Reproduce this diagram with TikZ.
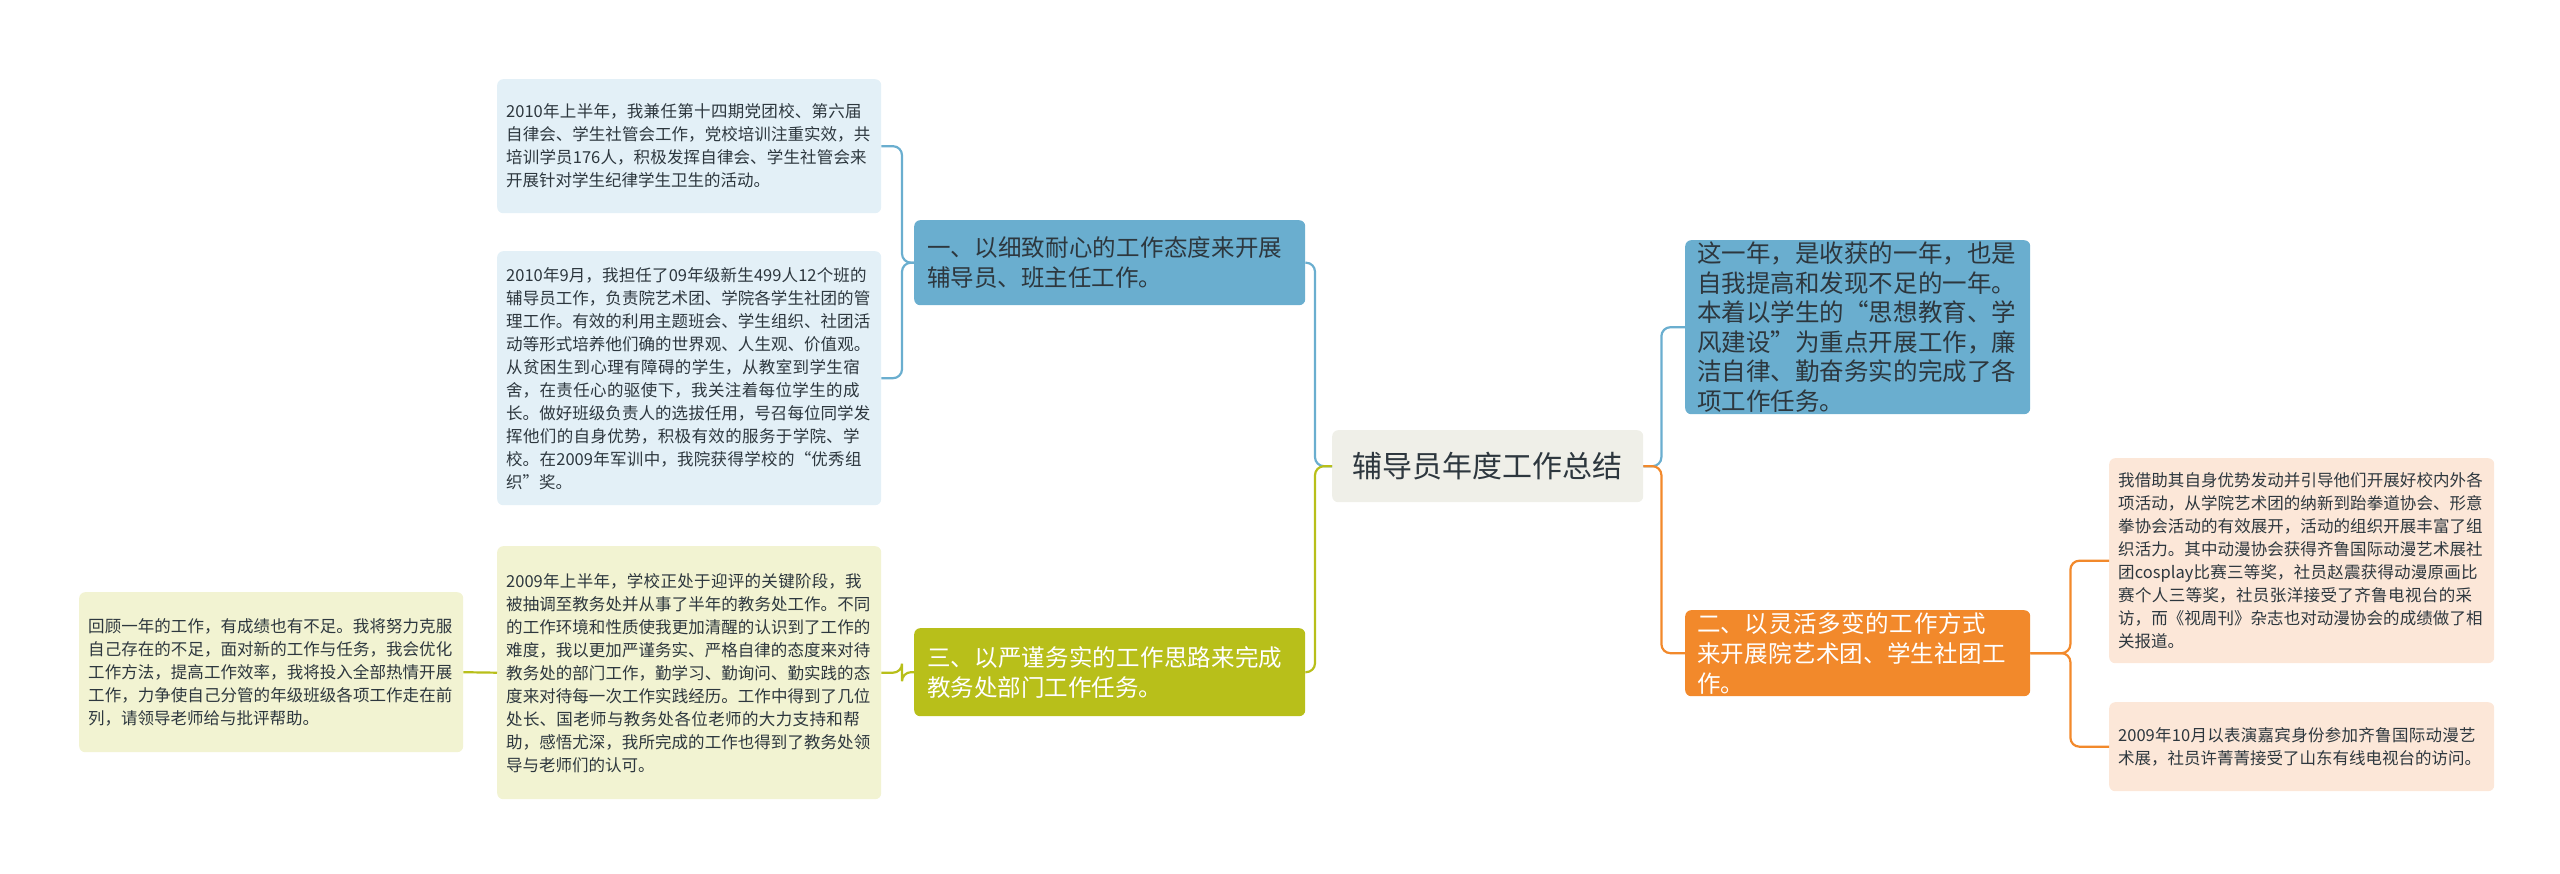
\documentclass[tikz,border=0pt]{standalone}
\usepackage{fontspec}
\setmainfont{Noto Sans CJK SC}
\XeTeXlinebreaklocale "zh"
\XeTeXlinebreakskip=0pt plus 1pt
\usetikzlibrary{positioning}
\definecolor{rootBg}{RGB}{239, 239, 232}
\definecolor{blueMain}{RGB}{106, 174, 207}
\definecolor{blueLeaf}{RGB}{227, 240, 247}
\definecolor{oliveMain}{RGB}{184, 191, 26}
\definecolor{oliveLeaf}{RGB}{242, 243, 210}
\definecolor{orangeMain}{RGB}{242, 137, 43}
\definecolor{orangeLeaf}{RGB}{252, 231, 216}
\definecolor{textDark}{RGB}{45, 55, 62}

\tikzset{
    box/.style={anchor=north west, rounded corners=6pt, inner sep=0pt, align=left},
    leaftext/.style={font=\fontsize{16.5}{23}\selectfont},
    branchtext/.style={font=\fontsize{23.5}{30}\selectfont},
    link/.style={line width=2.2pt, rounded corners=9pt}
}

\begin{document}
\begin{tikzpicture}[x=1pt, y=-1pt]
        \useasboundingbox (0,0) rectangle (2560,874);

        % Root
        \node[box, fill=rootBg, minimum width=311pt, minimum height=72pt, align=center,
              font=\fontsize{30}{36}\selectfont, text=textDark] (root) at (1332,430)
              {辅导员年度工作总结};

        % Branches
        \node[box, fill=blueMain, minimum width=391pt, minimum height=85pt, branchtext, text=textDark,
              text width=365pt, inner xsep=13pt] (brA) at (914,220)
              {一、以细致耐心的工作态度来开展辅导员、班主任工作。};
        \node[box, fill=oliveMain, minimum width=391pt, minimum height=88pt, branchtext, text=white,
              text width=365pt, inner xsep=13pt] (brC) at (914,628)
              {三、以严谨务实的工作思路来完成教务处部门工作任务。};
        \node[box, fill=blueMain, minimum width=345pt, minimum height=174pt,
              font=\fontsize{24.5}{29.5}\selectfont, text=textDark,
              text width=321pt, inner xsep=12pt] (sumR) at (1685,240)
              {这一年，是收获的一年，也是自我提高和发现不足的一年。本着以学生的“思想教育、学风建设”为重点开展工作，廉洁自律、勤奋务实的完成了各项工作任务。};
        \node[box, fill=orangeMain, minimum width=345pt, minimum height=86pt, branchtext, text=white,
              text width=321pt, inner xsep=12pt] (brB) at (1685,610)
              {二、以灵活多变的工作方式来开展院艺术团、学生社团工作。};

        % Leaves
        \node[box, fill=blueLeaf, minimum width=384pt, minimum height=134pt, leaftext, text=textDark,
              text width=366pt, inner xsep=9pt] (leafAa) at (497,79)
              {2010年上半年，我兼任第十四期党团校、第六届自律会、学生社管会工作，党校培训注重实效，共培训学员176人，积极发挥自律会、学生社管会来开展针对学生纪律学生卫生的活动。};
        \node[box, fill=blueLeaf, minimum width=384pt, minimum height=254pt, leaftext, text=textDark,
              text width=366pt, inner xsep=9pt] (leafAb) at (497,251)
              {2010年9月，我担任了09年级新生499人12个班的辅导员工作，负责院艺术团、学院各学生社团的管理工作。有效的利用主题班会、学生组织、社团活动等形式培养他们确的世界观、人生观、价值观。从贫困生到心理有障碍的学生，从教室到学生宿舍，在责任心的驱使下，我关注着每位学生的成长。做好班级负责人的选拔任用，号召每位同学发挥他们的自身优势，积极有效的服务于学院、学校。在2009年军训中，我院获得学校的“优秀组织”奖。};
        \node[box, fill=oliveLeaf, minimum width=384pt, minimum height=253pt, leaftext, text=textDark,
              text width=366pt, inner xsep=9pt] (leafCa) at (497,546)
              {2009年上半年，学校正处于迎评的关键阶段，我被抽调至教务处并从事了半年的教务处工作。不同的工作环境和性质使我更加清醒的认识到了工作的难度，我以更加严谨务实、严格自律的态度来对待教务处的部门工作，勤学习、勤询问、勤实践的态度来对待每一次工作实践经历。工作中得到了几位处长、国老师与教务处各位老师的大力支持和帮助，感悟尤深，我所完成的工作也得到了教务处领导与老师们的认可。};
        \node[box, fill=oliveLeaf, minimum width=384pt, minimum height=160pt, leaftext, text=textDark,
              text width=366pt, inner xsep=9pt] (leafCb) at (79,592)
              {回顾一年的工作，有成绩也有不足。我将努力克服自己存在的不足，面对新的工作与任务，我会优化工作方法，提高工作效率，我将投入全部热情开展工作，力争使自己分管的年级班级各项工作走在前列，请领导老师给与批评帮助。};
        \node[box, fill=orangeLeaf, minimum width=385pt, minimum height=205pt, leaftext, text=textDark,
              text width=367pt, inner xsep=9pt] (leafBa) at (2109,458)
              {我借助其自身优势发动并引导他们开展好校内外各项活动，从学院艺术团的纳新到跆拳道协会、形意拳协会活动的有效展开，活动的组织开展丰富了组织活力。其中动漫协会获得齐鲁国际动漫艺术展社团cosplay比赛三等奖，社员赵震获得动漫原画比赛个人三等奖，社员张洋接受了齐鲁电视台的采访，而《视周刊》杂志也对动漫协会的成绩做了相关报道。};
        \node[box, fill=orangeLeaf, minimum width=385pt, minimum height=89pt, leaftext, text=textDark,
              text width=367pt, inner xsep=9pt] (leafBb) at (2109,702)
              {2009年10月以表演嘉宾身份参加齐鲁国际动漫艺术展，社员许菁菁接受了山东有线电视台的访问。};

        % Connectors
        \draw[link, blueMain] (root.west) -- ++(-17,0) |- (brA.east);
        \draw[link, oliveMain] (root.west) -- ++(-17,0) |- (brC.east);
        \draw[link, blueMain] (root.east) -- ++(18,0) |- (sumR.west);
        \draw[link, orangeMain] (root.east) -- ++(18,0) |- (brB.west);
        \draw[link, blueMain] (brA.west) -- ++(-12,0) |- (leafAa.east);
        \draw[link, blueMain] (brA.west) -- ++(-12,0) |- (leafAb.east);
        \draw[link, oliveMain] (brC.west) -- ++(-12,0) |- (leafCa.east);
        \draw[link, oliveMain] (leafCa.west) -- (leafCb.east);
        \draw[link, orangeMain] (brB.east) -- ++(40,0) |- (leafBa.west);
        \draw[link, orangeMain] (brB.east) -- ++(40,0) |- (leafBb.west);
    \end{tikzpicture}
\end{document}
